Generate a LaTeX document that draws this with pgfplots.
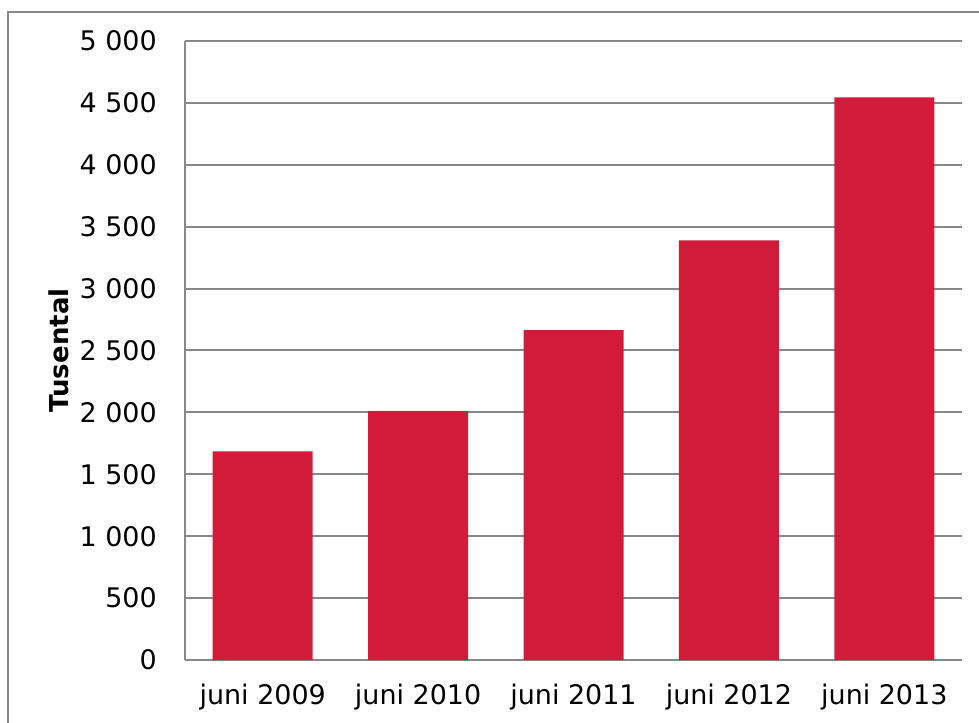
\documentclass[border=0pt]{standalone}
\usepackage{pgfplots}
\pgfplotsset{compat=1.18}
\usepackage{fontspec}
\setmainfont{DejaVu Sans}
\definecolor{barred}{RGB}{210,27,58}
\definecolor{gridgray}{RGB}{136,136,136}
\begin{document}
\begin{tikzpicture}
% page size 979x722 px, 1px = 0.75pt
\useasboundingbox (0,0) rectangle (734.25pt,541.5pt);
\draw[gridgray, line width=1.2pt] (6pt,-10pt) -- (6pt,532.5pt) -- (745pt,532.5pt);
\begin{axis}[
    at={(138.75pt,46.5pt)}, anchor=south west,
    scale only axis,
    width=582.75pt, height=464.25pt,
    xmin=-0.5, xmax=4.5,
    ymin=0, ymax=5000,
    xtick={0,1,2,3,4},
    xticklabels={juni 2009, juni 2010, juni 2011, juni 2012, juni 2013},
    ytick distance=500,
    axis x line*=bottom, axis y line*=left,
    axis line style={gridgray, line width=1.5pt, -},
    ymajorgrids,
    grid style={gridgray, line width=1.5pt},
    major tick length=0pt,
    tick style={draw=none},
    /pgf/number format/1000 sep={\ },
    /pgf/number format/assume math mode=true,
    tick label style={font=\fontsize{20.2}{24}\selectfont},
    label style={font=\fontsize{19.5}{23}\selectfont\bfseries},
    yticklabel style={inner sep=0pt, anchor=east, xshift=-21pt},
    xticklabel style={inner sep=0pt, anchor=north, yshift=-18pt},
    ylabel={Tusental},
    ylabel style={at={(axis description cs:-0.1622,0.5)}, anchor=center},
]
\addplot[ybar, bar width=75pt, fill=barred, draw=none] coordinates {
    (0,1685)
    (1,2010)
    (2,2665)
    (3,3390)
    (4,4545)
};
\end{axis}
\end{tikzpicture}
\end{document}
